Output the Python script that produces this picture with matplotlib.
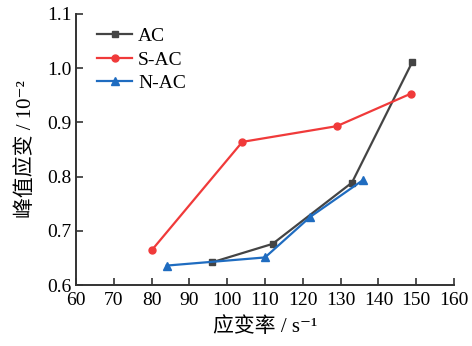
import matplotlib
matplotlib.use("Agg")
import matplotlib.pyplot as plt

# data
ac_x = [96, 112, 133, 149]
ac_y = [0.642, 0.676, 0.789, 1.012]
sac_x = [80, 104, 129, 148.6]
sac_y = [0.664, 0.864, 0.893, 0.953]
nac_x = [84, 110, 122, 136]
nac_y = [0.636, 0.651, 0.726, 0.794]

plt.rcParams['font.family'] = ['Liberation Serif', 'Noto Sans CJK SC', 'DejaVu Sans']

fig = plt.figure(figsize=(4.72, 3.46), dpi=100)
ax = fig.add_axes([0.161, 0.176, 0.801, 0.784])

ax.plot(ac_x, ac_y, color='#444444', marker='s', markersize=5, lw=1.6, label='AC')
ax.plot(sac_x, sac_y, color='#f03a3a', marker='o', markersize=5, lw=1.6, label='S-AC')
ax.plot(nac_x, nac_y, color='#1f6cc0', marker='^', markersize=6, lw=1.6, label='N-AC')

ax.set_xlim(60, 160)
ax.set_ylim(0.6, 1.1)
ax.set_xticks(range(60, 161, 10))
ax.set_yticks([0.6, 0.7, 0.8, 0.9, 1.0, 1.1])
ax.set_yticklabels(['0.6', '0.7', '0.8', '0.9', '1.0', '1.1'])

for s in ['top', 'right']:
    ax.spines[s].set_visible(False)
for s in ['left', 'bottom']:
    ax.spines[s].set_linewidth(1.4)
    ax.spines[s].set_color('#333333')
ax.tick_params(direction='in', length=5, width=1.2, color='#333333', labelsize=14)
ax.tick_params(axis='x', pad=5)
ax.tick_params(axis='y', pad=3)

ax.set_xlabel('应变率 / s⁻¹', fontsize=15, labelpad=6)
ax.set_ylabel('峰值应变 / 10⁻²', fontsize=15, labelpad=8)

ax.legend(loc='upper left', bbox_to_anchor=(0.02, 1.0), frameon=False, fontsize=14,
          handlelength=1.8, handletextpad=0.3, labelspacing=0.3, borderaxespad=0.3)

fig.savefig('out.png', dpi=100)
